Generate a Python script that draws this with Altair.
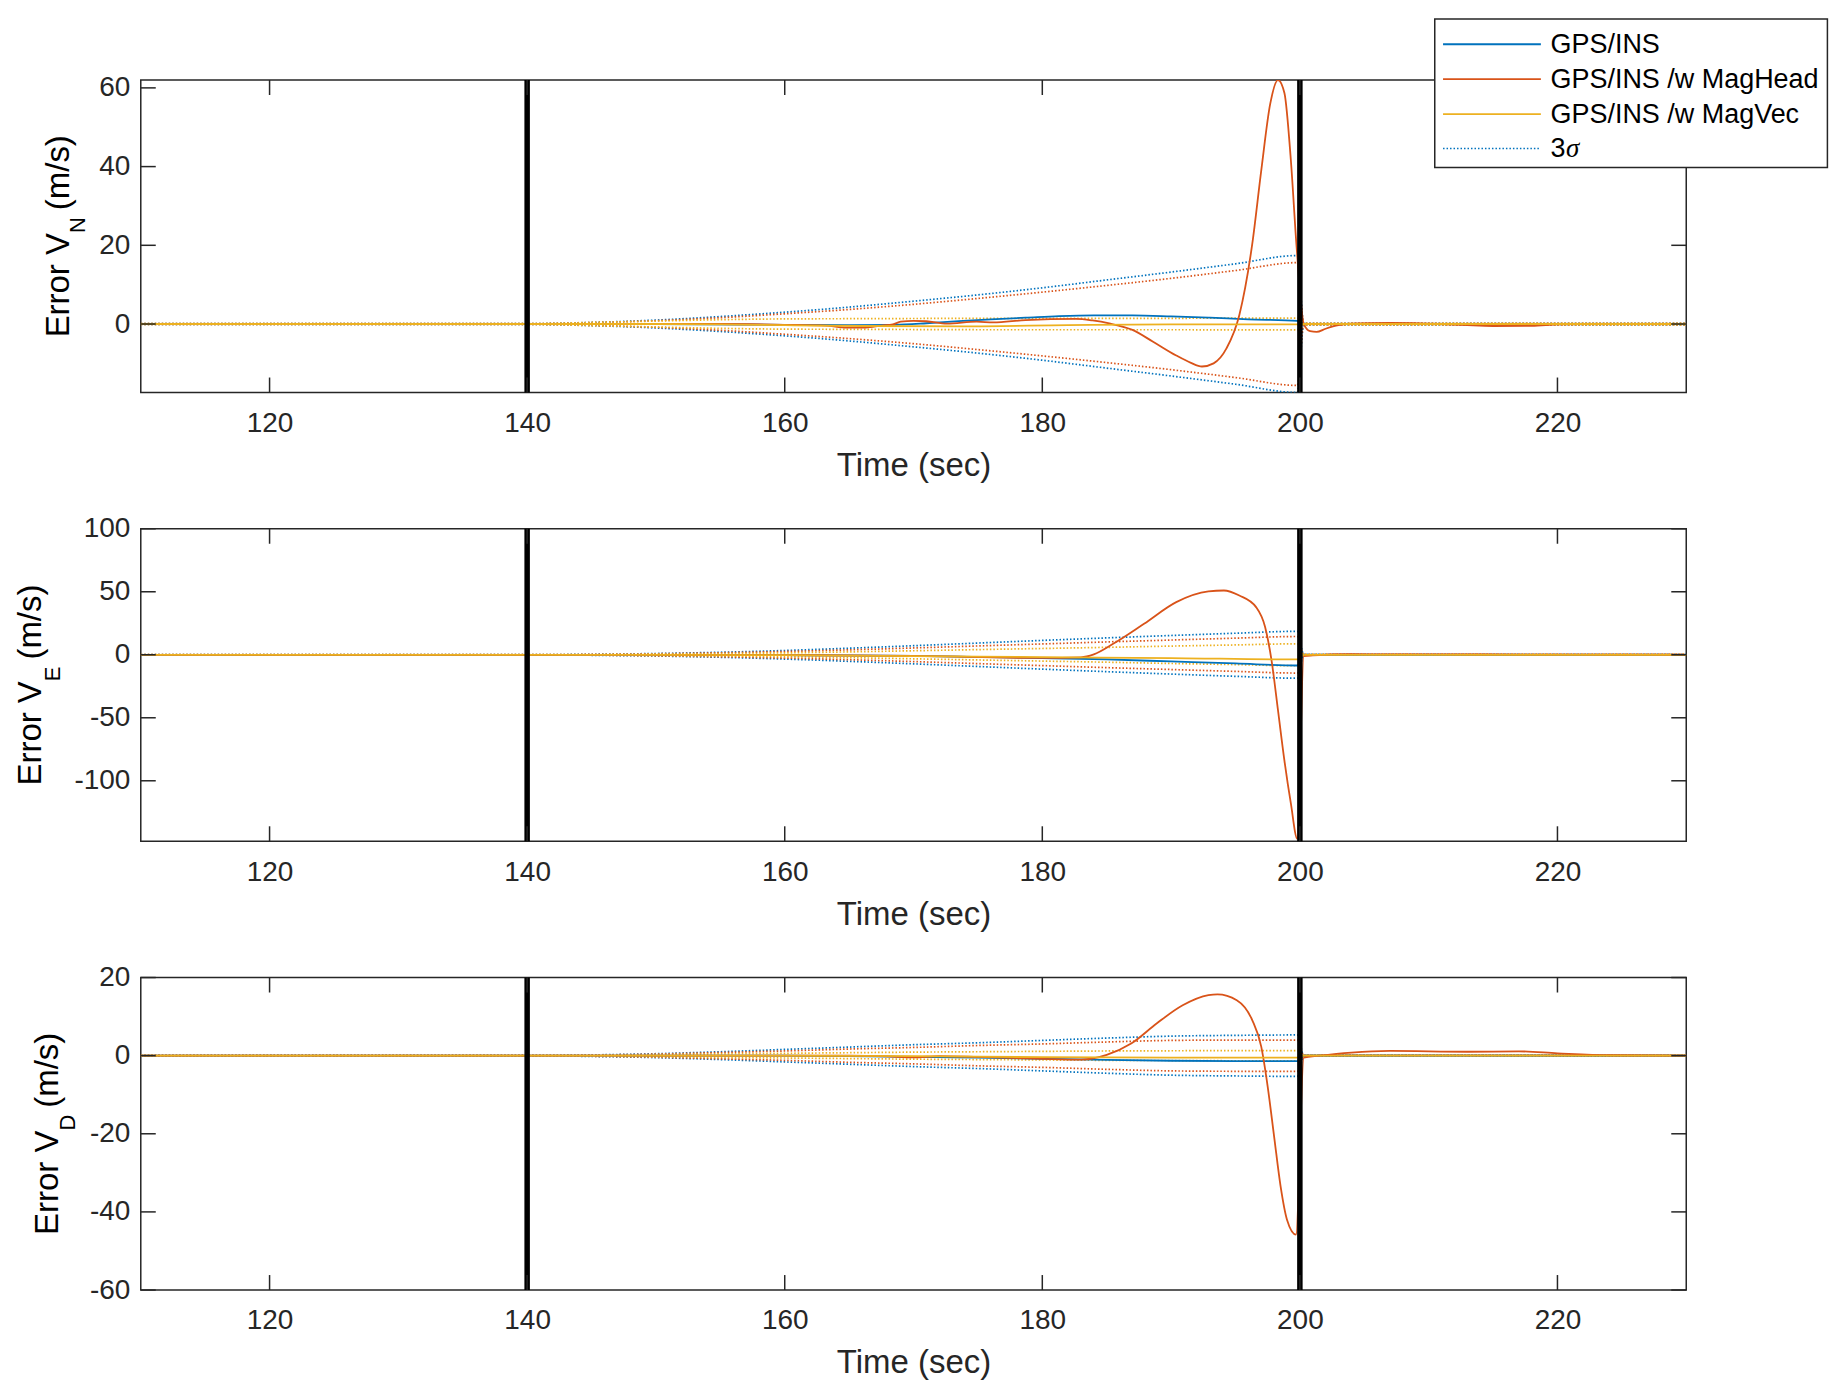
import altair as alt
import pandas as pd

# ---------------- data ----------------
X_DOMAIN = [110, 230]
X_TICKS = [120, 140, 160, 180, 200, 220]
OUTAGE = [140, 200]

SERIES = ["GPS/INS", "GPS/INS /w MagHead", "GPS/INS /w MagVec"]
COLORS = ["#0072BD", "#D95319", "#EDB120"]

# ---- Panel 1: Error V_N ----
N_Y_DOMAIN = [-17.4, 62]
N_Y_TICKS = [0, 20, 40, 60]
N_INS_T = [110, 140, 150, 160, 165, 168.5, 171, 173.5, 176, 178.7, 181.3, 184, 187, 190, 193, 196, 199.8, 200.4, 230]
N_INS_V = [0, 0, 0, -0.2, -0.3, -0.2, 0.2, 0.75, 1.2, 1.6, 2.0, 2.2, 2.2, 1.95, 1.6, 1.2, 0.8, 0, 0]
N_MH_T = [110, 140, 150, 155, 160, 163.2, 164.8, 166.3, 167.5, 168.4, 169, 170, 171, 172.6, 174.9, 176.2,
          178.7, 182.6, 183.9, 185.2, 187, 188.6, 190.4, 191.5, 192.4, 193.3, 194.3, 195.3, 196.3, 197,
          197.7, 198.3, 198.8, 199.3, 199.75, 200.3, 200.8, 201.3, 202, 203, 204, 207, 211, 213, 215,
          218, 220, 222, 230]
N_MH_V = [0, 0, 0, 0, -0.2, -0.4, -0.9, -0.9, -0.4, -0.1, 0.6, 0.8, 0.7, 0.1, 0.6, 0.4,
          1.0, 1.3, 0.9, 0.15, -1.5, -4.5, -8.0, -9.8, -10.8, -10.0, -6.2, 2.3, 20.3, 39,
          56, 62, 58.7, 41.6, 19.4, 0, -1.8, -2.0, -1.2, -0.3, 0.1, 0.3, 0, -0.3, -0.5,
          -0.45, -0.1, 0, 0]
N_MV_T = [110, 140, 150, 155, 160, 166, 174, 182, 190, 196, 199.8, 200.4, 230]
N_MV_V = [0, 0, 0, -0.1, -0.3, -0.5, -0.6, -0.3, -0.1, -0.1, -0.1, 0, 0]
N_SIG_T = [110, 140, 145, 150, 155, 160, 165, 170, 175, 180, 185, 190, 195, 199.8, 200.3, 230]
N_SIG_INS = [0.1, 0.1, 0.4, 1.0, 1.9, 3.0, 4.3, 5.8, 7.4, 9.2, 11.2, 13.2, 15.3, 17.4, 0.2, 0.2]
N_SIG_MH = [0.1, 0.1, 0.35, 0.85, 1.6, 2.6, 3.7, 5.0, 6.5, 8.1, 9.8, 11.6, 13.6, 15.6, 0.2, 0.2]
N_SIG_MV = [0.1, 0.1, 0.4, 0.75, 1.1, 1.3, 1.35, 1.4, 1.45, 1.45, 1.45, 1.45, 1.5, 1.5, 0.2, 0.2]

# ---- Panel 2: Error V_E ----
E_Y_DOMAIN = [-148, 100]
E_Y_TICKS = [-100, -50, 0, 50, 100]
E_INS_T = [110, 140, 150, 160, 170, 180, 185, 190, 195, 199.8, 200.3, 230]
E_INS_V = [0, 0, 0, -0.3, -0.9, -2.6, -3.7, -5.3, -6.9, -8.5, 0, 0]
E_MH_T = [110, 140, 150, 160, 170, 180, 183, 184, 185.5, 187.9, 190.4, 192.9, 194.1, 195.3, 196.6,
          197.3, 197.8, 198.3, 198.8, 199.3, 199.8, 200.3, 201, 204, 210, 220, 230]
E_MH_V = [0, 0, 0, -0.3, -0.9, -2.5, -2.0, 0.3, 8.7, 24.6, 41.8, 50.3, 51, 47, 37.8,
          22, -4.5, -44, -84, -118, -146, -1.0, -0.5, 0.4, 0.3, 0.1, 0]
E_MV_T = [110, 140, 150, 160, 170, 180, 190, 199.8, 200.3, 230]
E_MV_V = [0, 0, 0, -0.3, -1.0, -1.9, -2.6, -3.7, 0, 0]
E_SIG_T = [110, 140, 145, 150, 155, 160, 165, 170, 175, 180, 185, 190, 195, 199.8, 200.3, 230]
E_SIG_INS = [0.1, 0.1, 0.4, 1.0, 2.0, 3.4, 5.2, 7.2, 9.3, 11.4, 13.4, 15.3, 17.1, 18.6, 0.3, 0.3]
E_SIG_MH = [0.1, 0.1, 0.3, 0.8, 1.6, 2.6, 3.9, 5.4, 7.0, 8.6, 10.2, 11.7, 13.2, 14.5, 0.3, 0.3]
E_SIG_MV = [0.1, 0.1, 0.2, 0.5, 0.9, 1.5, 2.3, 3.2, 4.1, 5.0, 5.9, 6.9, 7.8, 8.7, 0.3, 0.3]

# ---- Panel 3: Error V_D ----
D_Y_DOMAIN = [-60, 20]
D_Y_TICKS = [-60, -40, -20, 0, 20]
D_INS_T = [110, 140, 160, 165, 170, 175, 180, 185, 190, 195, 199.8, 200.3, 230]
D_INS_V = [0, 0, 0, -0.1, -0.3, -0.5, -0.8, -1.1, -1.3, -1.4, -1.4, 0, 0]
D_MH_T = [110, 140, 160, 165, 168, 170, 172, 175, 180, 183, 185, 186.9, 188.9, 190.9, 192.9, 193.6,
          195.1, 196.3, 197, 197.5, 198, 198.5, 199, 199.7, 200.3, 201.5, 204, 207, 213, 217, 220, 224, 230]
D_MH_V = [0, 0, 0, 0, -0.2, -0.45, -0.1, -0.3, -0.8, -1.0, 0.2, 3.1, 8.3, 12.9, 15.5, 15.7,
          14.2, 9.1, 2.3, -7.9, -20.7, -33.4, -42, -45.8, -0.5, 0, 0.8, 1.2, 1.0, 1.1, 0.6, 0.1, 0]
D_MV_T = [110, 140, 160, 170, 180, 190, 199.8, 200.3, 230]
D_MV_V = [0, 0, 0, -0.1, -0.4, -0.5, -0.5, 0, 0]
D_SIG_T = [110, 140, 145, 150, 155, 160, 165, 170, 175, 180, 185, 190, 195, 199.8, 200.3, 230]
D_SIG_INS = [0.05, 0.05, 0.2, 0.5, 1.0, 1.6, 2.2, 2.8, 3.3, 3.9, 4.5, 5.0, 5.2, 5.3, 0.15, 0.15]
D_SIG_MH = [0.05, 0.05, 0.15, 0.4, 0.8, 1.2, 1.7, 2.1, 2.6, 3.0, 3.5, 3.9, 4.0, 4.0, 0.15, 0.15]
D_SIG_MV = [0.05, 0.05, 0.1, 0.25, 0.45, 0.6, 0.75, 0.9, 1.0, 1.1, 1.2, 1.25, 1.3, 1.3, 0.15, 0.15]

# ---------------- layout / style ----------------
W, H = 1548, 313
FONT = "Liberation Sans"
AX = "#262626"
TICK_LEN = 15
LABEL_FS = 28
TITLE_FS = 33
SUB_FS = 22

CW = {'E': .667, 'r': .333, 'o': .556, ' ': .278, 'V': .667, '(': .333, 'm': .833,
      '/': .278, 's': .5, ')': .333, 'N': .722, 'D': .722}


def tw(s, fs):
    return sum(CW[c] for c in s) * fs


X_ENC = alt.X("t:Q", scale=alt.Scale(domain=X_DOMAIN, nice=False, zero=False),
              axis=alt.Axis(values=X_TICKS, title="Time (sec)", labelFlush=False,
                            labelOverlap=False, labelPadding=17, titlePadding=12,
                            labelExpr="toString(datum.value)"))


def panel(solid, sigma, ydom, yticks, sub, base_dx, sub_dx, with_legend=False):
    y_enc = alt.Y("v:Q", scale=alt.Scale(domain=ydom, nice=False, zero=False),
                  axis=alt.Axis(values=yticks, title=None, labelOverlap=False,
                                labelPadding=11, labelExpr="toString(datum.value)"))
    rows = []
    for (tt, vv), name in zip(solid, SERIES):
        for a, b in zip(tt, vv):
            rows.append({"t": a, "v": b, "series": name, "grp": name})
    df_solid = pd.DataFrame(rows)
    rows = []
    st = sigma[0]
    for vv, name in zip(sigma[1:], SERIES):
        for a, b in zip(st, vv):
            rows.append({"t": a, "v": b, "series": name, "grp": name + "_up"})
            rows.append({"t": a, "v": -b, "series": name, "grp": name + "_lo"})
    df_sig = pd.DataFrame(rows)

    col = alt.Color("series:N", scale=alt.Scale(domain=SERIES, range=COLORS), legend=None)

    sig = alt.Chart(df_sig).mark_line(strokeWidth=1.7, strokeDash=[1.5, 2], clip=True,
                                      interpolate="monotone").encode(
        x=X_ENC, y=y_enc, color=col, detail="grp:N")
    lines = alt.Chart(df_solid).mark_line(strokeWidth=1.8, clip=True,
                                          interpolate="monotone").encode(
        x=X_ENC, y=y_enc, color=col, detail="grp:N",
        order=alt.Order("t:Q"))
    outage = alt.Chart(pd.DataFrame({"t": OUTAGE})).mark_rule(
        color="black", strokeWidth=5.5).encode(
        x=X_ENC, y=alt.value(0), y2=alt.value(H))

    xt = pd.DataFrame({"t": X_TICKS})
    yt = pd.DataFrame({"v": yticks})
    tick_kw = dict(color=AX, strokeWidth=1.5)
    xt_b = alt.Chart(xt).mark_rule(**tick_kw).encode(x=X_ENC, y=alt.value(H - TICK_LEN), y2=alt.value(H))
    xt_t = alt.Chart(xt).mark_rule(**tick_kw).encode(x=X_ENC, y=alt.value(0), y2=alt.value(TICK_LEN))
    yt_l = alt.Chart(yt).mark_rule(**tick_kw).encode(y=y_enc, x=alt.value(0), x2=alt.value(TICK_LEN))
    yt_r = alt.Chart(yt).mark_rule(**tick_kw).encode(y=y_enc, x=alt.value(W - TICK_LEN), x2=alt.value(W))

    one = pd.DataFrame({"k": [0]})
    w1 = tw("Error V", TITLE_FS)
    w2 = tw(sub, SUB_FS)
    gap = 7
    w3 = tw("(m/s)", TITLE_FS)
    total = w1 + w2 + gap + w3
    y0 = H / 2 + total / 2
    tkw = dict(font=FONT, angle=270, align="left", baseline="alphabetic", color="black")
    t1 = alt.Chart(one).mark_text(fontSize=TITLE_FS, **tkw).encode(
        x=alt.value(base_dx), y=alt.value(y0), text=alt.value("Error V"))
    t2 = alt.Chart(one).mark_text(fontSize=SUB_FS, **tkw).encode(
        x=alt.value(sub_dx), y=alt.value(y0 - w1), text=alt.value(sub))
    t3 = alt.Chart(one).mark_text(fontSize=TITLE_FS, **tkw).encode(
        x=alt.value(base_dx), y=alt.value(y0 - w1 - w2 - gap), text=alt.value("(m/s)"))

    layers = [sig, lines, outage, xt_b, xt_t, yt_l, yt_r, t1, t2, t3]

    if with_legend:
        bx0, bx1, by0, by1 = 1296.1, 1689.4, -61, 87.7
        box = alt.Chart(one).mark_rect(fill="white", stroke=AX, strokeWidth=1.5).encode(
            x=alt.value(bx0), x2=alt.value(bx1), y=alt.value(by0), y2=alt.value(by1))
        layers.append(box)
        row_y = [-35.8, -0.9, 34.2, 68.6]
        lx0, lx1, tx = 1304.4, 1402.4, 1412.1
        for i, name in enumerate(SERIES):
            layers.append(alt.Chart(one).mark_rule(color=COLORS[i], strokeWidth=1.8).encode(
                x=alt.value(lx0), x2=alt.value(lx1), y=alt.value(row_y[i])))
            layers.append(alt.Chart(one).mark_text(font=FONT, fontSize=27, align="left",
                                                   baseline="middle", color="black").encode(
                x=alt.value(tx), y=alt.value(row_y[i] + 1), text=alt.value(name)))
        layers.append(alt.Chart(one).mark_rule(color=COLORS[0], strokeWidth=1.6,
                                               strokeDash=[1.5, 2]).encode(
            x=alt.value(lx0), x2=alt.value(lx1), y=alt.value(row_y[3])))
        layers.append(alt.Chart(one).mark_text(font=FONT, fontSize=27, align="left",
                                               baseline="middle", color="black").encode(
            x=alt.value(tx), y=alt.value(row_y[3] + 1), text=alt.value("3")))
        layers.append(alt.Chart(one).mark_text(font="Liberation Serif", fontSize=27,
                                               fontStyle="italic", align="left",
                                               baseline="middle", color="black").encode(
            x=alt.value(tx + 15.5), y=alt.value(row_y[3] + 1), text=alt.value("σ")))

    return alt.layer(*layers).properties(width=W, height=H)


p1 = panel([(N_INS_T, N_INS_V), (N_MH_T, N_MH_V), (N_MV_T, N_MV_V)],
           [N_SIG_T, N_SIG_INS, N_SIG_MH, N_SIG_MV],
           N_Y_DOMAIN, N_Y_TICKS, "N", -72.3, -56.3, with_legend=True)
p2 = panel([(E_INS_T, E_INS_V), (E_MH_T, E_MH_V), (E_MV_T, E_MV_V)],
           [E_SIG_T, E_SIG_INS, E_SIG_MH, E_SIG_MV],
           E_Y_DOMAIN, E_Y_TICKS, "E", -99.9, -80.5)
p3 = panel([(D_INS_T, D_INS_V), (D_MH_T, D_MH_V), (D_MV_T, D_MV_V)],
           [D_SIG_T, D_SIG_INS, D_SIG_MH, D_SIG_MV],
           D_Y_DOMAIN, D_Y_TICKS, "D", -83.3, -65.6)

chart = alt.vconcat(p1, p2, p3, spacing=136.5, bounds="flush").properties(
    padding={"left": 6.0, "top": 8.0, "right": 5, "bottom": 0},
    background="white",
).configure_view(
    stroke=AX, strokeWidth=1.5
).configure_axis(
    labelFont=FONT, titleFont=FONT, labelFontSize=LABEL_FS, titleFontSize=TITLE_FS,
    titleFontWeight="normal", labelColor=AX, titleColor=AX, grid=False, domain=False,
    ticks=False, tickSize=0
)

chart.save("out.html", embed_options={"renderer": "svg", "actions": False})
